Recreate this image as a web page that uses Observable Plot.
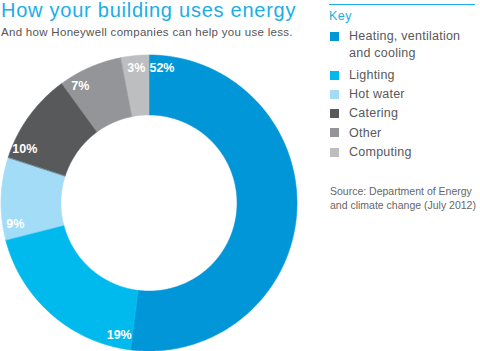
<!DOCTYPE html>
<html><head><meta charset="utf-8">
<script src="https://cdn.jsdelivr.net/npm/d3@7"></script>
<script src="https://cdn.jsdelivr.net/npm/@observablehq/plot@0.6"></script>
<style>
html,body{margin:0;padding:0;background:#fff;}
#wrap{position:relative;width:480px;height:351px;overflow:hidden;font-family:"Liberation Sans",Arial,Helvetica,sans-serif;}
#wrap svg{position:absolute;left:0;top:0;}
.abs{position:absolute;white-space:nowrap;}
#title{left:1px;top:-1px;font-size:20px;letter-spacing:0.75px;color:#1aaee6;line-height:22px;}
#subtitle{left:1px;top:25px;font-size:11.5px;letter-spacing:0.3px;color:#555;line-height:14px;}
#keyline{left:329px;top:3.5px;width:146px;height:1.5px;background:#1aaee6;}
#keyhead{left:329px;top:9px;font-size:12.5px;letter-spacing:0.5px;color:#1aaee6;line-height:14px;}
#legend{left:330px;top:28.25px;}
.item{display:flex;align-items:flex-start;margin-bottom:2.8px;}
.sw{width:9px;height:9px;margin-top:3.75px;margin-right:10px;flex:none;}
.lab{font-size:12.5px;letter-spacing:0.25px;line-height:16.5px;color:#58595b;white-space:pre;}
#source{left:330px;top:184px;font-size:10.5px;line-height:14px;color:#666;}
</style></head><body><div id="wrap"></div>
<script>
const categories = ["Heating, ventilation and cooling", "Lighting", "Hot water", "Catering", "Other", "Computing"];
const legendLines = [["Heating, ventilation", "and cooling"], ["Lighting"], ["Hot water"], ["Catering"], ["Other"], ["Computing"]];
const values = [52, 19, 9, 10, 7, 3];
const colors = ["#0096d8", "#00b9ed", "#a3dcf7", "#58595b", "#939598", "#bcbec0"];
const titleText = "How your building uses energy";
const subtitleText = "And how Honeywell companies can help you use less.";
const keyText = "Key";
const sourceLines = ["Source: Department of Energy", "and climate change (July 2012)"];

const wrap = document.getElementById("wrap");

// geometry (unit radius donut)
const outerR = 1, innerR = 0.595, labelR = 0.915;
const total = d3.sum(values);
const cum = d3.cumsum(values);
const slices = categories.map((c, i) => ({
  cat: c,
  value: values[i],
  a0: ((cum[i] - values[i]) / total) * 2 * Math.PI,
  a1: (cum[i] / total) * 2 * Math.PI
}));
const pts = [];
for (const s of slices) {
  const n = Math.max(8, Math.ceil((s.a1 - s.a0) / 0.01));
  for (let k = 0; k <= n; k++) {
    const a = s.a0 + (s.a1 - s.a0) * k / n;
    pts.push({cat: s.cat, x: outerR * Math.sin(a), y: outerR * Math.cos(a)});
  }
  for (let k = n; k >= 0; k--) {
    const a = s.a0 + (s.a1 - s.a0) * k / n;
    pts.push({cat: s.cat, x: innerR * Math.sin(a), y: innerR * Math.cos(a)});
  }
}
const off = 5.5 * Math.PI / 180;
const labels = slices.map(s => {
  const a = s.a0 + Math.min(off, (s.a1 - s.a0) / 2);
  return {text: s.value + "%", x: labelR * Math.sin(a), y: labelR * Math.cos(a)};
});

const cx = 148.5, cy = 202.5, R = 148;
const chart = Plot.plot({
  width: 480, height: 351, margin: 0,
  x: {domain: [-cx / R, (480 - cx) / R], axis: null},
  y: {domain: [-(351 - cy) / R, cy / R], axis: null},
  color: {domain: categories, range: colors},
  style: {background: "transparent"},
  marks: [
    Plot.line(pts, {x: "x", y: "y", z: "cat", fill: "cat", stroke: "cat", strokeWidth: 0.6, curve: "linear-closed"}),
    Plot.text(labels, {x: "x", y: "y", text: "text", fill: "white", fontSize: 12.5, fontWeight: "bold",
      fontFamily: "Liberation Sans, Arial, sans-serif", textAnchor: "middle", lineAnchor: "middle"})
  ]
});
wrap.appendChild(chart);

function addDiv(id, text) {
  const d = document.createElement("div");
  d.className = "abs"; d.id = id;
  if (text != null) d.textContent = text;
  wrap.appendChild(d);
  return d;
}
addDiv("title", titleText);
addDiv("subtitle", subtitleText);
addDiv("keyline");
addDiv("keyhead", keyText);
const leg = addDiv("legend");
categories.forEach((c, i) => {
  const it = document.createElement("div"); it.className = "item";
  if (i === 0) it.style.marginBottom = "5.5px";
  const sw = document.createElement("div"); sw.className = "sw"; sw.style.background = colors[i];
  const lb = document.createElement("div"); lb.className = "lab"; lb.textContent = legendLines[i].join("\n");
  it.appendChild(sw); it.appendChild(lb); leg.appendChild(it);
});
const src = addDiv("source");
src.innerHTML = sourceLines.map(s => s.replace(/&/g, "&amp;").replace(/</g, "&lt;")).join("<br>");
</script>
</body></html>
